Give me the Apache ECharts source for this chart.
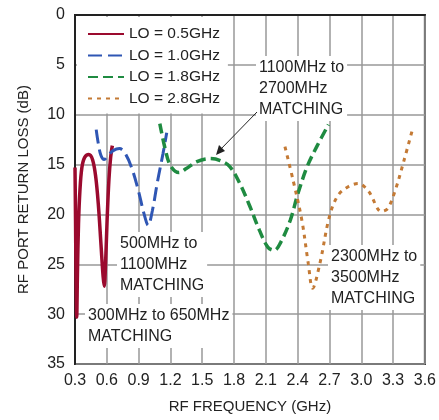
<!DOCTYPE html>
<html><head><meta charset="utf-8">
<script src="https://cdn.jsdelivr.net/npm/echarts@6/dist/echarts.min.js"></script>
<style>html,body{margin:0;padding:0;background:#fff}#c{width:439px;height:420px}</style>
</head><body><div id="c"></div>
<script>
var xTicks = [0.3,0.6,0.9,1.2,1.5,1.8,2.1,2.4,2.7,3.0,3.3,3.6];
var yTicks = [0,5,10,15,20,25,30,35];
var seriesNames = ['LO = 0.5GHz','LO = 1.0GHz','LO = 1.8GHz','LO = 2.8GHz'];
var lo05 = [[0.300,15.3],[0.305,20.5],[0.310,26.5],[0.316,30.3],[0.323,26],[0.333,21],[0.347,17.5],[0.365,15.3],[0.39,14.3],[0.43,14.0],[0.465,14.5],[0.495,16.2],[0.52,19],[0.545,23],[0.565,26.2],[0.576,27.2],[0.588,25],[0.603,20.5],[0.62,16.5],[0.636,14.3],[0.652,13.1]];
var lo10 = [[0.50,11.5],[0.52,12.9],[0.545,14.1],[0.575,14.5],[0.61,14.1],[0.66,13.6],[0.72,13.4],[0.78,14.0],[0.84,15.5],[0.90,17.7],[0.95,19.9],[0.99,21.1],[1.03,19.6],[1.08,16.6],[1.13,13.9],[1.165,11.8]];
var lo18 = [[1.10,10.9],[1.15,13.4],[1.20,15.1],[1.28,15.8],[1.35,15.4],[1.45,14.7],[1.57,14.4],[1.67,14.6],[1.76,15.2],[1.85,16.8],[1.95,19.2],[2.04,21.6],[2.12,23.3],[2.18,23.6],[2.24,22.8],[2.33,20.6],[2.40,18.0],[2.49,15.2],[2.58,13.2],[2.69,11.0]];
var lo28 = [[2.28,13.2],[2.36,16.7],[2.44,20.6],[2.50,24.9],[2.541,27.4],[2.61,24.9],[2.70,20.2],[2.78,18.1],[2.88,17.2],[2.97,16.9],[3.07,17.7],[3.19,19.7],[3.25,19.4],[3.32,17.6],[3.40,14.7],[3.49,11.2]];
var colors = ['#9b0a2e','#2f56b4','#1f8b41','#c47a35'];
var FONT = '"Liberation Sans Narrow","Liberation Sans",Arial,sans-serif';

var chart = echarts.init(document.getElementById('c'));
function ser(name, data, color, type, w) {
  return {name:name, type:'line', data:data, symbol:'none', smooth:0.35,
    lineStyle:{color:color, width:w, type:type, cap:'butt'}, itemStyle:{color:color}};
}
function note(x, y, txt) {
  return {type:'text', left:x, top:y, z:100,
    style:{text:txt, fontSize:16, lineHeight:21, fill:'#222', fontFamily:FONT, backgroundColor:'#fff', padding:[1,3]}};
}
chart.setOption({
  animation:false,
  textStyle:{fontFamily:FONT},
  grid:{left:75, right:14, top:15, bottom:56, show:true, borderColor:'#222', borderWidth:2},
  xAxis:{type:'value', min:0.3, max:3.6, interval:0.3,
    name:'RF FREQUENCY (GHz)', nameLocation:'middle', nameGap:35,
    nameTextStyle:{fontSize:15, color:'#222', fontFamily:FONT},
    axisLine:{lineStyle:{color:'#222', width:2}}, axisTick:{show:false},
    axisLabel:{fontSize:16, color:'#222', margin:9, fontFamily:FONT, formatter:function(v){return v.toFixed(1);}},
    splitLine:{show:true, lineStyle:{color:'#999', width:1.5}}},
  yAxis:{type:'value', min:0, max:35, interval:5, inverse:true,
    name:'RF PORT RETURN LOSS (dB)', nameLocation:'middle', nameGap:44,
    nameTextStyle:{fontSize:15, color:'#222', fontFamily:FONT},
    axisLine:{lineStyle:{color:'#222', width:2}}, axisTick:{show:false},
    axisLabel:{fontSize:16, color:'#222', margin:10, fontFamily:FONT},
    splitLine:{show:true, lineStyle:{color:'#999', width:1.5}}},
  legend:{show:true, orient:'vertical', left:77, top:17, itemWidth:36, itemHeight:10, itemGap:5.5,
    backgroundColor:'#fff', padding:[9,8,7,10],
    itemStyle:{opacity:0},
    textStyle:{fontSize:15.5, color:'#222', fontFamily:FONT},
    data:seriesNames},
  series:[
    ser(seriesNames[0], lo05, colors[0], 'solid', 3.5),
    ser(seriesNames[1], lo10, colors[1], [14,6], 3),
    ser(seriesNames[2], lo18, colors[2], [10,5], 3.5),
    ser(seriesNames[3], lo28, colors[3], [4,5], 3)
  ],
  graphic:[
    note(256, 56, '1100MHz to\n2700MHz\nMATCHING'),
    {type:'line', z:100, shape:{x1:257, y1:112, x2:219, y2:151}, style:{stroke:'#222', lineWidth:1}},
    {type:'polygon', z:100, shape:{points:[[216,155],[219,145],[225,151]]}, style:{fill:'#222'}},
    note(117, 232, '500MHz to\n1100MHz\nMATCHING'),
    note(85, 304, '300MHz to 650MHz\nMATCHING'),
    note(328, 245, '2300MHz to\n3500MHz\nMATCHING')
  ]
});
</script></body></html>
